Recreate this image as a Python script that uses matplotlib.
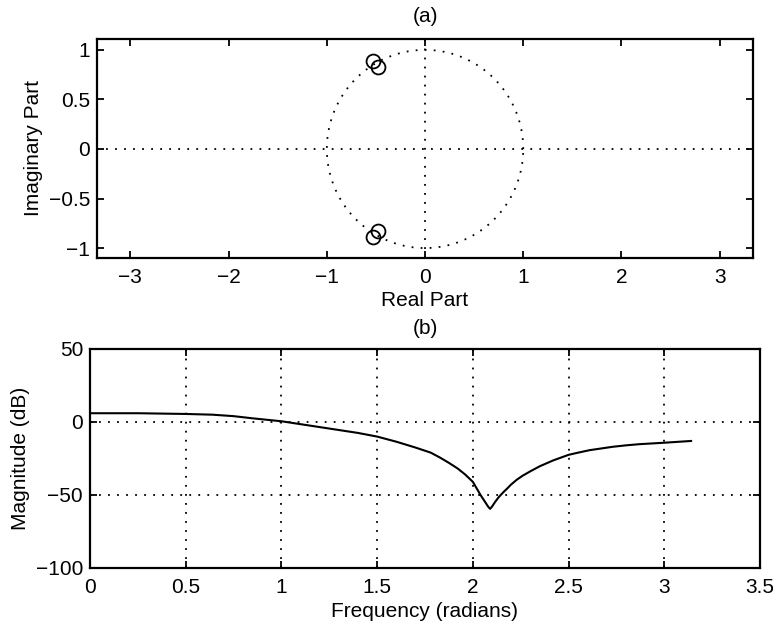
import numpy as np
import matplotlib
matplotlib.use("Agg")
import matplotlib.pyplot as plt

plt.rcParams['font.family'] = ['Liberation Sans', 'DejaVu Sans']
plt.rcParams['font.size'] = 15

# zeros
zeros_re = [-0.53, -0.48, -0.53, -0.48]
zeros_im = [0.89, 0.83, -0.89, -0.83]

# magnitude response
freq = [0, 0.1, 0.25, 0.5, 0.64, 0.75, 0.85, 1.0, 1.15, 1.25, 1.4, 1.5, 1.6,
        1.7, 1.78, 1.83, 1.875, 1.92, 1.96, 2.0, 2.04, 2.065, 2.08, 2.09,
        2.10, 2.115, 2.135, 2.16, 2.18, 2.2, 2.23, 2.26, 2.3, 2.35, 2.42,
        2.5, 2.55, 2.61, 2.73, 2.8, 2.87, 3.0, 3.07, 3.14]
mag_db = [6, 6, 6, 5.5, 5, 4, 2.5, 0.5, -2.5, -4.5, -7.5, -10, -13.5,
          -17.5, -21, -24.5, -28, -31.8, -36, -41, -50, -55, -58, -59.5,
          -58, -55, -51.5, -48, -45.5, -42.8, -39.5, -36.8, -33.8, -30.3,
          -26.3, -22.5, -21, -19.3, -17, -16, -15.2, -14.2, -13.6, -13]

fig = plt.figure(figsize=(7.73, 6.26), dpi=100)

dot = (0, (1, 4))

# ---- (a) pole-zero plot
ax1 = fig.add_axes([0.1255, 0.5879, 0.8487, 0.3498])
t = np.linspace(0, 2 * np.pi, 400)
ax1.plot(np.cos(t), np.sin(t), color='black', linestyle=dot, linewidth=1.3)
ax1.axhline(0, color='black', linestyle=dot, linewidth=1.3)
ax1.axvline(0, color='black', linestyle=dot, linewidth=1.3)
ax1.plot(zeros_re, zeros_im, linestyle='none', marker='o', markersize=10,
         markerfacecolor='none', markeredgecolor='black', markeredgewidth=1.3)
ax1.set_xlim(-3.34, 3.34)
ax1.set_ylim(-1.1, 1.11)
ax1.set_xticks([-3, -2, -1, 0, 1, 2, 3])
ax1.set_xticklabels(['\u22123', '\u22122', '\u22121', '0', '1', '2', '3'])
ax1.set_yticks([-1, -0.5, 0, 0.5, 1])
ax1.set_yticklabels(['\u22121', '\u22120.5', '0', '0.5', '1'])
ax1.set_xlabel('Real Part', labelpad=3)
ax1.set_ylabel('Imaginary Part', labelpad=4)
ax1.set_title('(a)', fontsize=15, pad=12)

# ---- (b) magnitude response
ax2 = fig.add_axes([0.1164, 0.0927, 0.8668, 0.3498])
ax2.plot(freq, mag_db, color='black', linewidth=1.5)
ax2.set_xlim(0, 3.5)
ax2.set_ylim(-100, 50)
ax2.set_xticks([0, 0.5, 1, 1.5, 2, 2.5, 3, 3.5])
ax2.set_xticklabels(['0', '0.5', '1', '1.5', '2', '2.5', '3', '3.5'])
ax2.set_yticks([-100, -50, 0, 50])
ax2.set_yticklabels(['\u2212100', '\u221250', '0', '50'])
ax2.grid(True, color='black', linestyle=dot, linewidth=1.3)
ax2.set_xlabel('Frequency (radians)', labelpad=4)
ax2.set_ylabel('Magnitude (dB)', labelpad=4)
ax2.set_title('(b)', fontsize=15, pad=11)

for ax in (ax1, ax2):
    ax.tick_params(direction='in', top=True, right=True, length=5, width=1.3,
                   labelsize=15)
    ax.tick_params(axis='x', pad=7)
    ax.tick_params(axis='y', pad=5)
    for s in ax.spines.values():
        s.set_linewidth(1.6)
        s.set_color('black')

fig.savefig('out.png', dpi=100)
